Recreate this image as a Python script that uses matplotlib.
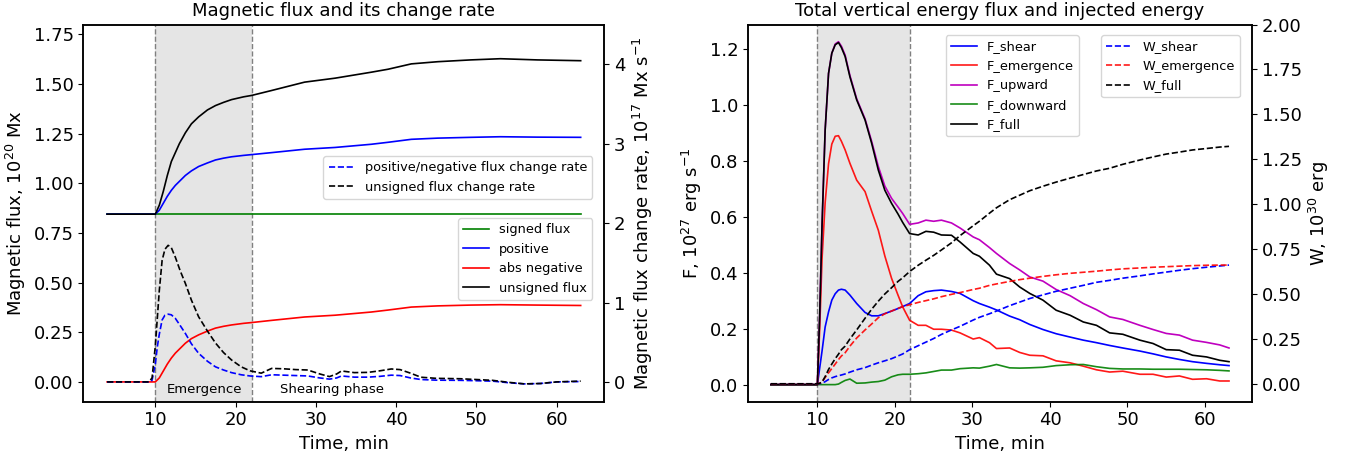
import numpy as np
import matplotlib
matplotlib.use("Agg")
import matplotlib.pyplot as plt

# ---- left panel: magnetic flux (10^20 Mx) ----
t_flux = [4, 10, 10.5, 11, 11.5, 12, 12.5, 13, 13.75, 14.5, 15.4, 16.5, 17.5, 18.5,
          19.5, 21, 22, 24.5, 28.6, 32.4, 36.9, 39, 41.9, 45.2, 49.3, 53, 57.6, 63]
signed_flux = [0.845] * len(t_flux)
positive = [0.845, 0.845, 0.865, 0.9, 0.935, 0.965, 0.99, 1.01, 1.04, 1.063, 1.085, 1.103,
            1.118, 1.127, 1.134, 1.141, 1.145, 1.155, 1.172, 1.181, 1.197, 1.207, 1.222,
            1.228, 1.232, 1.235, 1.233, 1.232]
abs_negative = [0, 0, 0.02, 0.055, 0.09, 0.12, 0.145, 0.165, 0.195, 0.218, 0.237, 0.256,
                0.271, 0.28, 0.287, 0.295, 0.299, 0.31, 0.327, 0.336, 0.352, 0.362, 0.377,
                0.383, 0.387, 0.389, 0.387, 0.385]
unsigned_flux = [0.845, 0.845, 0.89, 0.96, 1.04, 1.11, 1.155, 1.2, 1.255, 1.3, 1.335, 1.37,
                 1.392, 1.408, 1.422, 1.436, 1.443, 1.468, 1.51, 1.53, 1.56, 1.575, 1.602,
                 1.613, 1.622, 1.628, 1.622, 1.618]

# flux change rate (10^17 Mx/s)
t_rate = [4, 9.2, 9.6, 10.0, 10.25, 10.5, 10.85, 11.2, 11.6, 12.0, 12.5, 13.1, 13.75, 14.5,
          15.4, 16.5, 17.5, 18.5, 19.5, 20.7, 21.8, 23.2, 24.5, 26, 27.5, 29, 30.5, 31.7,
          32.6, 33.2, 34.8, 36.5, 38, 39.4, 40.5, 41.8, 43.1, 45, 48, 50, 52, 54, 56, 58,
          60, 63]
rate_unsigned = [0, 0, 0.05, 0.45, 0.8, 1.15, 1.53, 1.67, 1.72, 1.69, 1.57, 1.4, 1.24, 1.03,
                 0.82, 0.64, 0.49, 0.37, 0.276, 0.19, 0.14, 0.11, 0.17, 0.165, 0.155, 0.15,
                 0.1, 0.067, 0.1, 0.138, 0.117, 0.12, 0.14, 0.163, 0.155, 0.11, 0.059, 0.045,
                 0.04, 0.03, 0.02, -0.005, -0.025, -0.02, 0.0, 0.01]
rate_posneg = [0, 0, 0.02, 0.22, 0.44, 0.6, 0.78, 0.84, 0.853, 0.845, 0.8, 0.71, 0.61, 0.48,
               0.36, 0.26, 0.19, 0.15, 0.117, 0.09, 0.075, 0.066, 0.09, 0.085, 0.08, 0.075,
               0.05, 0.035, 0.05, 0.075, 0.06, 0.06, 0.07, 0.085, 0.08, 0.05, 0.03, 0.022,
               0.02, 0.015, 0.01, -0.01, -0.025, -0.02, 0.0, 0.005]

# ---- right panel: energy flux (10^27 erg/s) and energy (10^30 erg) ----
t_en = [4, 10, 10.3, 10.6, 11.0, 11.44, 11.86, 12.3, 12.72, 13.1, 13.58, 14.2, 15.07, 16.15,
        17.0, 17.86, 18.7, 19.57, 20.4, 21.0, 21.9, 23.0, 24.0, 25.0, 26.0, 27.3, 28.4, 30.1,
        30.9, 32.2, 33.1, 34.8, 36.1, 37.4, 39.1, 40.8, 42.6, 44.3, 46.0, 47.7, 49.4, 51.6,
        53.3, 55.0, 56.7, 58.4, 60.2, 61.9, 63.1]
F_shear = [0, 0, 0.06, 0.12, 0.206, 0.26, 0.302, 0.325, 0.338, 0.341, 0.338, 0.32, 0.29,
           0.258, 0.246, 0.246, 0.254, 0.263, 0.272, 0.279, 0.29, 0.318, 0.332, 0.336, 0.338,
           0.333, 0.326, 0.3, 0.29, 0.277, 0.267, 0.245, 0.232, 0.215, 0.197, 0.182, 0.17,
           0.159, 0.15, 0.14, 0.131, 0.12, 0.11, 0.099, 0.09, 0.082, 0.076, 0.071, 0.068]
F_emergence = [0, 0, 0.2, 0.45, 0.65, 0.79, 0.86, 0.888, 0.89, 0.87, 0.839, 0.791, 0.731,
               0.69, 0.62, 0.552, 0.46, 0.38, 0.32, 0.278, 0.23, 0.212, 0.212, 0.198, 0.198,
               0.195, 0.185, 0.163, 0.168, 0.15, 0.129, 0.131, 0.115, 0.105, 0.103, 0.085,
               0.078, 0.066, 0.053, 0.045, 0.048, 0.037, 0.037, 0.027, 0.031, 0.019, 0.021,
               0.013, 0.013]
F_upward = [0, 0, 0.25, 0.57, 0.91, 1.113, 1.185, 1.218, 1.226, 1.21, 1.178, 1.105, 1.022,
            0.95, 0.87, 0.78, 0.71, 0.666, 0.635, 0.612, 0.573, 0.578, 0.588, 0.584, 0.588,
            0.578, 0.56, 0.528, 0.518, 0.49, 0.469, 0.433, 0.41, 0.385, 0.37, 0.34, 0.318,
            0.29, 0.268, 0.242, 0.233, 0.212, 0.197, 0.183, 0.177, 0.159, 0.151, 0.142, 0.131]
F_downward = [0, 0, 0, 0, 0, 0, 0, 0, 0.002, 0.008, 0.015, 0.02, 0.005, 0.006, 0.009, 0.011,
              0.016, 0.028, 0.035, 0.037, 0.037, 0.039, 0.042, 0.047, 0.052, 0.052, 0.057,
              0.06, 0.059, 0.066, 0.072, 0.06, 0.059, 0.06, 0.062, 0.068, 0.071, 0.072,
              0.064, 0.058, 0.056, 0.056, 0.055, 0.055, 0.055, 0.054, 0.053, 0.051, 0.049]
F_full = [0, 0, 0.25, 0.57, 0.91, 1.113, 1.185, 1.215, 1.223, 1.205, 1.173, 1.1, 1.018, 0.946,
          0.863, 0.767, 0.695, 0.648, 0.61, 0.58, 0.54, 0.535, 0.548, 0.545, 0.535, 0.534,
          0.51, 0.469, 0.459, 0.427, 0.395, 0.379, 0.349, 0.326, 0.302, 0.266, 0.248, 0.224,
          0.212, 0.185, 0.18, 0.159, 0.147, 0.125, 0.123, 0.105, 0.099, 0.087, 0.082]
W_shear = [0, 0, 0.001, 0.004, 0.012, 0.024, 0.033, 0.04, 0.045, 0.049, 0.055, 0.065, 0.078,
           0.09, 0.104, 0.117, 0.128, 0.14, 0.155, 0.166, 0.19, 0.212, 0.232, 0.252, 0.275,
           0.3, 0.32, 0.355, 0.37, 0.39, 0.405, 0.435, 0.455, 0.475, 0.495, 0.515, 0.532,
           0.548, 0.565, 0.576, 0.588, 0.601, 0.612, 0.622, 0.632, 0.641, 0.649, 0.656, 0.661]
W_emergence = [0, 0, 0.003, 0.01, 0.035, 0.061, 0.085, 0.11, 0.135, 0.155, 0.173, 0.21,
               0.255, 0.3, 0.333, 0.368, 0.39, 0.405, 0.42, 0.43, 0.44, 0.453, 0.463, 0.473,
               0.485, 0.498, 0.508, 0.525, 0.532, 0.548, 0.556, 0.57, 0.58, 0.588, 0.598,
               0.607, 0.615, 0.621, 0.627, 0.634, 0.64, 0.645, 0.649, 0.652, 0.655, 0.658,
               0.66, 0.661, 0.661]
W_full = [0, 0, 0.003, 0.01, 0.04, 0.08, 0.11, 0.14, 0.165, 0.19, 0.21, 0.25, 0.3, 0.365,
          0.415, 0.46, 0.5, 0.535, 0.57, 0.59, 0.625, 0.66, 0.688, 0.715, 0.745, 0.785, 0.825,
          0.88, 0.905, 0.95, 0.98, 1.025, 1.05, 1.075, 1.1, 1.123, 1.145, 1.165, 1.185, 1.2,
          1.222, 1.246, 1.263, 1.279, 1.29, 1.302, 1.31, 1.318, 1.322]

emergence_start, emergence_end = 10, 22

FS = 13
plt.rcParams['font.size'] = FS
plt.rcParams['axes.linewidth'] = 1.1

fig = plt.figure(figsize=(13.46, 4.55), dpi=100)
ax1 = fig.add_axes([0.062, 0.117, 0.387, 0.829])
ax1r = ax1.twinx()
ax2 = fig.add_axes([0.5557, 0.117, 0.3744, 0.829])
ax2r = ax2.twinx()

lw = 1.2

# left panel
for a in (ax1,):
    a.axvspan(emergence_start, emergence_end, color='gray', alpha=0.2, lw=0)
    a.axvline(emergence_start, color='gray', ls='--', lw=1)
    a.axvline(emergence_end, color='gray', ls='--', lw=1)

h1 = ax1.plot(t_flux, signed_flux, color='g', lw=lw, label='signed flux')
h2 = ax1.plot(t_flux, positive, color='b', lw=lw, label='positive')
h3 = ax1.plot(t_flux, abs_negative, color='r', lw=lw, label='abs negative')
h4 = ax1.plot(t_flux, unsigned_flux, color='k', lw=lw, label='unsigned flux')
r1 = ax1r.plot(t_rate, rate_posneg, color='b', ls='--', lw=lw,
               label='positive/negative flux change rate')
r2 = ax1r.plot(t_rate, rate_unsigned, color='k', ls='--', lw=lw,
               label='unsigned flux change rate')

ax1.set_ylim(-0.1, 1.8)
ax1r.set_ylim(-0.25, 4.5)
ax1r.set_yticks([0, 1, 2, 3, 4])
ax1.set_xlabel('Time, min', fontsize=FS)
ax1.set_ylabel('Magnetic flux, $10^{20}$ Mx', fontsize=FS)
ax1r.set_ylabel('Magnetic flux change rate, $10^{17}$ Mx s$^{-1}$', fontsize=FS)
ax1.set_title('Magnetic flux and its change rate', fontsize=FS)
ax1.text(11.4, -0.04, 'Emergence', fontsize=9.5, va='center', ha='left')
ax1.text(25.6, -0.04, 'Shearing phase', fontsize=9.5, va='center', ha='left')

leg_a = ax1r.legend(handles=r1 + r2, loc='upper right', bbox_to_anchor=(0.977, 0.651),
                    borderaxespad=0, fontsize=9.3)
ax1r.add_artist(leg_a)
ax1r.legend(handles=h1 + h2 + h3 + h4, loc='upper right', bbox_to_anchor=(0.977, 0.487),
            borderaxespad=0, fontsize=9.3)

# right panel
ax2.axvspan(emergence_start, emergence_end, color='gray', alpha=0.2, lw=0)
ax2.axvline(emergence_start, color='gray', ls='--', lw=1)
ax2.axvline(emergence_end, color='gray', ls='--', lw=1)

f1 = ax2.plot(t_en, F_shear, color='b', lw=lw, label='F_shear')
f2 = ax2.plot(t_en, F_emergence, color='r', lw=lw, alpha=0.9, label='F_emergence')
f3 = ax2.plot(t_en, F_upward, color='m', lw=lw, label='F_upward')
f4 = ax2.plot(t_en, F_downward, color='g', lw=lw, alpha=0.9, label='F_downward')
f5 = ax2.plot(t_en, F_full, color='k', lw=lw, label='F_full')
w1 = ax2r.plot(t_en, W_shear, color='b', ls='--', lw=lw, label='W_shear')
w2 = ax2r.plot(t_en, W_emergence, color='r', ls='--', lw=lw, alpha=0.9, label='W_emergence')
w3 = ax2r.plot(t_en, W_full, color='k', ls='--', lw=lw, label='W_full')

ax2r.set_ylim(-0.1, 2.0)
ax2r.set_yticks([0, 0.25, 0.5, 0.75, 1.0, 1.25, 1.5, 1.75, 2.0])
ax2r.yaxis.set_major_formatter(matplotlib.ticker.FormatStrFormatter('%.2f'))
ax2.set_yticks([0, 0.2, 0.4, 0.6, 0.8, 1.0, 1.2])
ax2.set_xlabel('Time, min', fontsize=FS)
ax2.set_ylabel('F, $10^{27}$ erg s$^{-1}$', fontsize=FS)
ax2r.set_ylabel('W, $10^{30}$ erg', fontsize=FS)
ax2.set_title('Total vertical energy flux and injected energy', fontsize=FS)

leg_f = ax2r.legend(handles=f1 + f2 + f3 + f4 + f5, loc='upper left',
                    bbox_to_anchor=(0.392, 0.972), borderaxespad=0, fontsize=9.3)
ax2r.add_artist(leg_f)
ax2r.legend(handles=w1 + w2 + w3, loc='upper right', bbox_to_anchor=(0.976, 0.972),
            borderaxespad=0, fontsize=9.3)

for a in (ax1, ax1r, ax2, ax2r):
    a.tick_params(labelsize=FS)
for a in (ax1, ax2):
    a.set_xticks([10, 20, 30, 40, 50, 60])

fig.savefig('out.png', dpi=100)
